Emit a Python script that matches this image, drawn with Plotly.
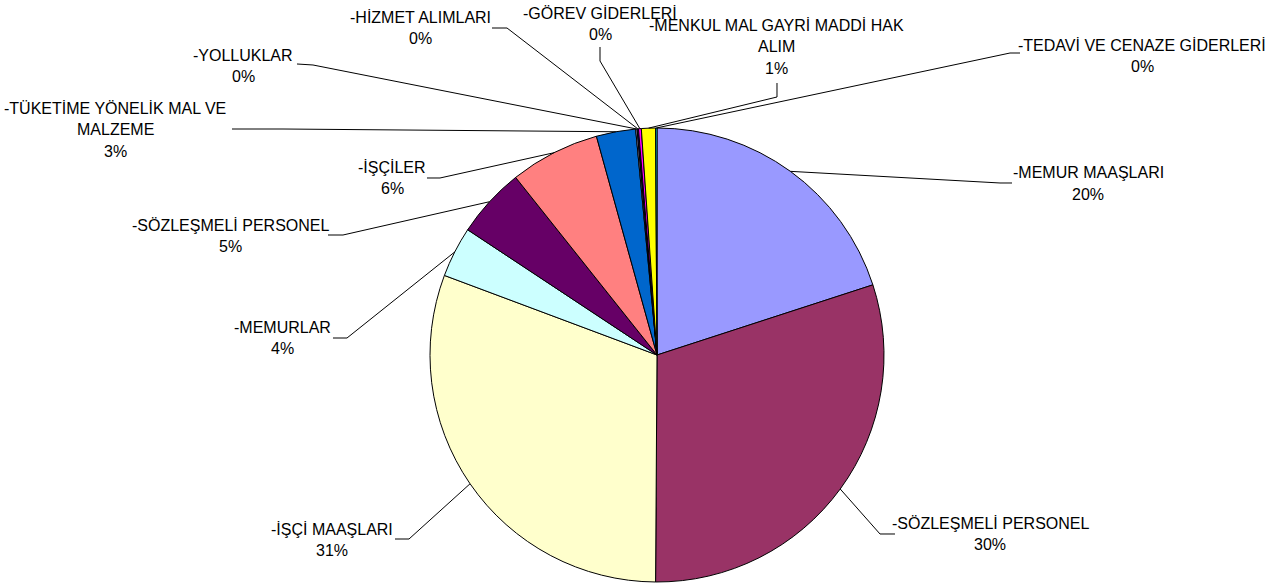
import math
import plotly.graph_objects as go

# ---- data ----
categories = [
    "-MEMUR MAAŞLARI",
    "-SÖZLEŞMELİ PERSONEL",
    "-İŞÇİ MAAŞLARI",
    "-MEMURLAR",
    "-SÖZLEŞMELİ PERSONEL",
    "-İŞÇİLER",
    "-TÜKETİME YÖNELİK MAL VE MALZEME",
    "-YOLLUKLAR",
    "-HİZMET ALIMLARI",
    "-GÖREV GİDERLERİ",
    "-MENKUL MAL GAYRİ MADDİ HAK ALIM",
    "-TEDAVİ VE CENAZE GİDERLERİ",
]
values = [20.0, 30.1, 30.6, 3.6, 5.0, 6.4, 2.8, 0.1, 0.1, 0.2, 1.0, 0.1]
label_lines = [
    ["-MEMUR MAAŞLARI"],
    ["-SÖZLEŞMELİ PERSONEL"],
    ["-İŞÇİ MAAŞLARI"],
    ["-MEMURLAR"],
    ["-SÖZLEŞMELİ PERSONEL"],
    ["-İŞÇİLER"],
    ["-TÜKETİME YÖNELİK MAL VE", "MALZEME"],
    ["-YOLLUKLAR"],
    ["-HİZMET ALIMLARI"],
    ["-GÖREV GİDERLERİ"],
    ["-MENKUL MAL GAYRİ MADDİ HAK", "ALIM"],
    ["-TEDAVİ VE CENAZE GİDERLERİ"],
]
colors = ["#9999FF", "#993366", "#FFFFCC", "#CCFFFF", "#660066", "#FF8080",
          "#0066CC", "#CCCCFF", "#000080", "#FF00FF", "#FFFF00", "#00FFFF"]

# ---- layout / style (pixels) ----
W, H = 1274, 588
CX, CY, R = 657, 355, 227
FONT = dict(family="Arial, Liberation Sans, sans-serif", size=16, color="black")
LINE_GAP = 21.5
# label: centre x, first-line y ; leader: points from label side towards pie
label_pos = [
    (1088, 173), (990, 523), (332, 529), (282, 327), (230, 225), (392, 167),
    (115, 108), (243, 55), (420, 17), (600, 13), (776, 25), (1142, 45),
]
leader_pts = [
    [(1012, 183), (1000, 183)],
    [(895, 534), (880, 534)],
    [(395, 539), (409, 539)],
    [(333, 338), (347, 338)],
    [(328, 235), (343, 235)],
    [(427, 178), (440, 178)],
    [(232, 129), (283, 129)],
    [(297, 64), (313, 65)],
    [(492, 28), (507, 28)],
    [(600, 47), (600, 61)],
    [(777, 83), (777, 97)],
    [(1020, 53), (1010, 53)],
]


def px(x):
    return x / W


def py(y):
    return 1 - y / H


fig = go.Figure()
fig.add_trace(go.Pie(
    values=values,
    text=categories,
    sort=False,
    direction="clockwise",
    rotation=0,
    textinfo="none",
    hovertemplate="%{text}: %{percent}<extra></extra>",
    marker=dict(colors=colors, line=dict(color="black", width=1)),
    domain=dict(x=[px(CX - R), px(CX + R)], y=[py(CY + R), py(CY - R)]),
    showlegend=False,
))

total = sum(values)
shapes = []
annotations = []
cum = 0.0
for i, v in enumerate(values):
    mid = (cum + v / 2) / total * 360.0
    cum += v
    ex = CX + R * math.sin(math.radians(mid))
    ey = CY - R * math.cos(math.radians(mid))
    pts = leader_pts[i] + [(ex, ey)]
    path = "M " + " L ".join(f"{px(a):.5f},{py(b):.5f}" for a, b in pts)
    shapes.append(dict(type="path", xref="paper", yref="paper", path=path,
                       line=dict(color="black", width=1)))
    pct = f"{round(v / total * 100):.0f}%"
    lines = label_lines[i] + [pct]
    lx, ly = label_pos[i]
    for k, t in enumerate(lines):
        annotations.append(dict(
            x=px(lx), y=py(ly + k * LINE_GAP), xref="paper", yref="paper",
            text=t, showarrow=False, xanchor="center", yanchor="middle",
            font=FONT,
        ))

fig.update_layout(
    width=W, height=H,
    margin=dict(l=0, r=0, t=0, b=0),
    paper_bgcolor="white",
    plot_bgcolor="white",
    shapes=shapes,
    annotations=annotations,
)

fig.write_html(
    "out.html",
    config={"displayModeBar": False},
    post_script="document.body.style.margin='0';document.body.style.overflow='hidden';",
)
